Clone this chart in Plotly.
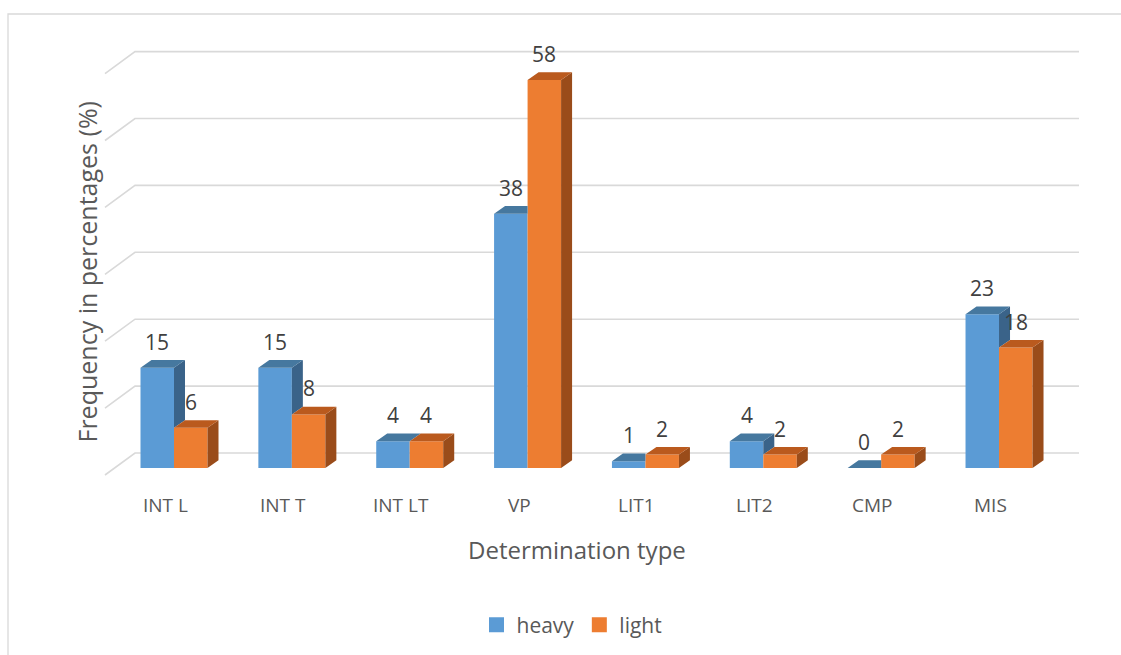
import plotly.graph_objects as go

# ---------------- data ----------------
categories = ["INT L", "INT T", "INT LT", "VP", "LIT1", "LIT2", "CMP", "MIS"]
heavy = [15, 15, 4, 38, 1, 4, 0, 23]
light = [6, 8, 4, 58, 2, 2, 2, 18]
y_ticks = [0, 10, 20, 30, 40, 50, 60]
series_names = ["heavy", "light"]
x_title = "Determination type"
y_title = "Frequency in percentages (%)"

# ---------------- styling / geometry ----------------
W, H = 1121, 655
FONT = "Open Sans"
TXT = "#595959"
LBL = "#404040"
GRID = "#D9D9D9"
C_FRONT = ["#5B9BD5", "#ED7D31"]
C_TOP = ["#46789F", "#BA5A1E"]
C_SIDE = ["#3A6389", "#9A4C1A"]

X0, DXC = 174.0, 117.86   # pixel of first category centre, px per category
Y0, DYV = 468.0, 6.69     # pixel of value 0 (front), px per unit


def xd(px):
    return (px - X0) / DXC


def yd(py):
    return (Y0 - py) / DYV


BW = 33.5 / DXC          # bar width in data units
DEPX = 11.0 / DXC        # 3-D depth offset (x)
DEPY = 7.7 / DYV         # 3-D depth offset (y)
BACK_V = yd(453)         # back wall offset of gridlines
FRONT_V = yd(475)        # front floor offset of gridlines

fig = go.Figure()

# front faces
idx = list(range(len(categories)))
for k, (vals, off) in enumerate([(heavy, -BW), (light, 0.0)]):
    fig.add_trace(go.Bar(
        x=idx, y=vals, width=BW, offset=off,
        marker=dict(color=C_FRONT[k], line=dict(width=0)),
        showlegend=False, hoverinfo="skip", name=series_names[k]))


def poly_trace(polys, color):
    xs, ys = [], []
    for p in polys:
        for (a, b) in p:
            xs.append(a)
            ys.append(b)
        xs.append(p[0][0]); ys.append(p[0][1])
        xs.append(None); ys.append(None)
    return go.Scatter(x=xs, y=ys, mode="lines", fill="toself",
                      fillcolor=color, line=dict(width=0, color=color),
                      showlegend=False, hoverinfo="skip")


h_side, h_top, l_side, l_top = [], [], [], []
for i in idx:
    hH, hL = heavy[i], light[i]
    xL, xM, xR = i - BW, i, i + BW
    # heavy top
    if hH >= hL:
        h_top.append([(xL, hH), (xM, hH), (xM + DEPX, hH + DEPY), (xL + DEPX, hH + DEPY)])
    else:
        h_top.append([(xL, hH), (xM, hH), (xM, hH + DEPY), (xL + DEPX, hH + DEPY)])
    # heavy side (visible part above light bar)
    if hH > hL:
        h_side.append([(xM, hL), (xM, hH), (xM + DEPX, hH + DEPY), (xM + DEPX, hL + DEPY)])
    # light side + top
    l_side.append([(xR, 0), (xR, hL), (xR + DEPX, hL + DEPY), (xR + DEPX, DEPY)])
    l_top.append([(xM, hL), (xR, hL), (xR + DEPX, hL + DEPY), (xM + DEPX, hL + DEPY)])

fig.add_trace(poly_trace(h_side, C_SIDE[0]))
fig.add_trace(poly_trace(h_top, C_TOP[0]))
fig.add_trace(poly_trace(l_side, C_SIDE[1]))
fig.add_trace(poly_trace(l_top, C_TOP[1]))

# legend entries
for k in range(2):
    fig.add_trace(go.Scatter(x=[None], y=[None], mode="markers", name=series_names[k],
                             marker=dict(symbol="square", size=15, color=C_FRONT[k])))

# gridlines (back wall + left diagonal)
shapes = []
for t in y_ticks:
    path = "M {:.4f},{:.4f} L {:.4f},{:.4f} L {:.4f},{:.4f}".format(
        xd(105), t + FRONT_V, xd(135), t + BACK_V, xd(1079), t + BACK_V)
    shapes.append(dict(type="path", path=path, xref="x", yref="y", layer="below",
                       line=dict(color=GRID, width=1.6)))
# outer border
shapes.append(dict(type="rect", xref="paper", yref="paper",
                   x0=8 / W, x1=1.05, y0=-0.05, y1=1 - 14 / H,
                   line=dict(color=GRID, width=1.3), layer="below"))

annotations = []
# data labels
for i in idx:
    for k, (vals, cx) in enumerate([(heavy, i - BW / 2), (light, i + BW / 2)]):
        annotations.append(dict(x=cx, y=vals[i], xref="x", yref="y", yshift=26,
                                text=str(vals[i]), showarrow=False,
                                xanchor="center", yanchor="middle",
                                font=dict(family=FONT, size=21, color=LBL)))
# category labels
for i, c in enumerate(categories):
    annotations.append(dict(x=i - 8.5 / DXC, y=yd(505), xref="x", yref="y",
                            text=c, showarrow=False, xanchor="center", yanchor="middle",
                            font=dict(family=FONT, size=19, color=TXT)))
# axis titles
annotations.append(dict(x=577 / W, y=1 - 549 / H, xref="paper", yref="paper",
                        text=x_title, showarrow=False, xanchor="center", yanchor="middle",
                        font=dict(family=FONT, size=24, color=TXT)))
annotations.append(dict(x=86 / W, y=1 - 272.5 / H, xref="paper", yref="paper",
                        text=y_title, showarrow=False, textangle=-90,
                        xanchor="center", yanchor="middle",
                        font=dict(family=FONT, size=25, color=TXT)))

fig.update_layout(
    width=W, height=H,
    margin=dict(l=0, r=0, t=0, b=0),
    paper_bgcolor="white", plot_bgcolor="white",
    barmode="overlay",
    xaxis=dict(range=[xd(0), xd(W)], visible=False, fixedrange=True),
    yaxis=dict(range=[yd(H), yd(0)], visible=False, fixedrange=True),
    showlegend=True,
    legend=dict(orientation="h", x=572 / W, xanchor="center",
                y=1 - 625 / H, yanchor="middle",
                font=dict(family=FONT, size=21, color=TXT),
                bgcolor="rgba(0,0,0,0)"),
    shapes=shapes,
    annotations=annotations,
    font=dict(family=FONT, color=TXT),
)

fig.write_html("out.html", config={"displayModeBar": False},
               post_script="document.body.style.margin='0px';document.body.style.overflow='hidden';")
